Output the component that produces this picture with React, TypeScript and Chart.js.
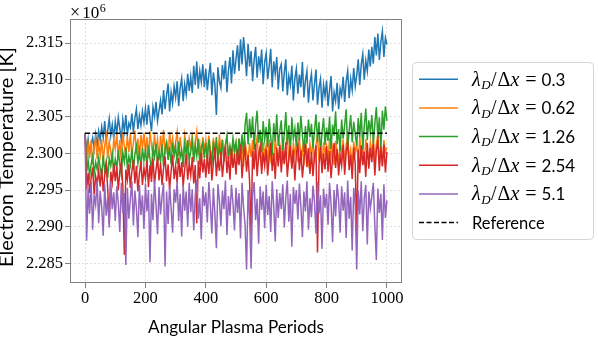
import { useEffect, useRef } from "react";
import { Chart, registerables } from "chart.js";

Chart.register(...registerables);

// Angular plasma periods sampled every 5 periods (0 .. 1000)
const periods: number[] = Array.from({ length: 201 }, (_, i) => i * 5);

const xTicks = [0, 200, 400, 600, 800, 1000];
const yTicks = [2.285, 2.29, 2.295, 2.3, 2.305, 2.31, 2.315];
const referenceT = 2.30272; // x10^6 K

// Electron temperature, in units of 10^6 K
const t030 = [
  2.3027,2.3004,2.3019,2.2999,2.3012,2.3021,2.3006,2.3026,2.3011,2.3030,
  2.3018,2.3036,2.3021,2.3044,2.3016,2.3031,2.3047,2.3024,2.3039,2.3020,
  2.3043,2.3027,2.3049,2.3034,2.3018,2.3046,2.3030,2.3052,2.3025,2.3041,
  2.3035,2.3054,2.3029,2.3048,2.3060,2.3033,2.3051,2.3038,2.3057,2.3042,
  2.3061,2.3039,2.3066,2.3047,2.3030,2.3063,2.3050,2.3070,2.3044,2.3058,
  2.3072,2.3053,2.3086,2.3060,2.3079,2.3095,2.3057,2.3083,2.3068,2.3091,
  2.3076,2.3098,2.3064,2.3089,2.3102,2.3071,2.3094,2.3080,2.3108,2.3085,
  2.3104,2.3082,2.3119,2.3093,2.3125,2.3088,2.3112,2.3097,2.3121,2.3090,
  2.3115,2.3086,2.3107,2.3123,2.3079,2.3110,2.3094,2.3052,2.3117,2.3098,
  2.3089,2.3120,2.3101,2.3126,2.3083,2.3113,2.3131,2.3095,2.3140,2.3108,
  2.3128,2.3147,2.3112,2.3155,2.3121,2.3158,2.3134,2.3105,2.3149,2.3118,
  2.3139,2.3098,2.3127,2.3145,2.3103,2.3132,2.3116,2.3141,2.3094,2.3124,
  2.3136,2.3101,2.3119,2.3142,2.3090,2.3125,2.3108,2.3131,2.3087,2.3115,
  2.3121,2.3084,2.3110,2.3128,2.3079,2.3105,2.3093,2.3119,2.3072,2.3102,
  2.3115,2.3081,2.3107,2.3090,2.3124,2.3076,2.3099,2.3112,2.3069,2.3096,
  2.3108,2.3072,2.3094,2.3114,2.3066,2.3089,2.3101,2.3062,2.3093,2.3078,
  2.3099,2.3064,2.3086,2.3105,2.3057,2.3083,2.3071,2.3096,2.3060,2.3088,
  2.3079,2.3104,2.3070,2.3098,2.3112,2.3075,2.3101,2.3086,2.3116,2.3091,
  2.3106,2.3128,2.3093,2.3121,2.3135,2.3100,2.3126,2.3112,2.3141,2.3118,
  2.3145,2.3122,2.3158,2.3133,2.3163,2.3127,2.3152,2.3166,2.3131,2.3157,
  2.3148,
];

const t062 = [
  2.3027,2.2989,2.3012,2.2994,2.3018,2.2985,2.3008,2.3021,2.2992,2.3014,
  2.2997,2.3019,2.2988,2.3011,2.3024,2.2993,2.3016,2.3003,2.2986,2.3020,
  2.3006,2.3026,2.2995,2.3018,2.2990,2.3029,2.3009,2.2998,2.3023,2.3002,
  2.3027,2.2996,2.3014,2.3031,2.2999,2.3020,2.2992,2.3025,2.3007,2.3028,
  2.3001,2.3022,2.2994,2.3030,2.3010,2.2997,2.3026,2.3004,2.3019,2.2991,
  2.3024,2.3005,2.3032,2.2998,2.3017,2.2993,2.3028,2.3008,2.3021,2.3000,
  2.3015,2.3029,2.2996,2.3022,2.3003,2.2989,2.3025,2.3011,2.2995,2.3020,
  2.3006,2.3027,2.2992,2.3016,2.3030,2.2998,2.3013,2.2987,2.3022,2.3004,
  2.3018,2.2994,2.3024,2.3007,2.2986,2.3021,2.3001,2.3015,2.2990,2.3026,
  2.3003,2.3019,2.2988,2.3012,2.3023,2.2992,2.3010,2.2984,2.3017,2.2999,
  2.3013,2.2986,2.3020,2.2997,2.3008,2.2982,2.3016,2.3002,2.2989,2.3014,
  2.2995,2.3018,2.2984,2.3009,2.3022,2.2990,2.3005,2.2980,2.3015,2.2998,
  2.3011,2.2987,2.3019,2.2993,2.3006,2.2983,2.3021,2.3000,2.2988,2.3012,
  2.2996,2.3017,2.2985,2.3010,2.3024,2.2991,2.3004,2.2981,2.3014,2.2999,
  2.3012,2.2988,2.3020,2.2994,2.3007,2.2983,2.3018,2.3001,2.2987,2.3013,
  2.2997,2.3016,2.2986,2.3011,2.3025,2.2990,2.3006,2.2982,2.3015,2.3000,
  2.3010,2.2989,2.3021,2.2995,2.3008,2.2984,2.3017,2.3002,2.2988,2.3014,
  2.2998,2.3019,2.2985,2.3012,2.3023,2.2992,2.3005,2.2983,2.3016,2.3001,
  2.3013,2.2987,2.3022,2.2996,2.3009,2.2985,2.3019,2.3003,2.2990,2.3015,
  2.2999,2.3020,2.2986,2.3013,2.3026,2.2993,2.3007,2.2984,2.3018,2.3002,
  2.3008,
];

const t126 = [
  2.3027,2.2974,2.2991,2.2969,2.2985,2.2996,2.2972,2.2988,2.2978,2.2994,
  2.2981,2.2970,2.2997,2.2976,2.2989,2.2967,2.2993,2.2983,2.2999,2.2975,
  2.2992,2.2979,2.3004,2.2985,2.2971,2.3001,2.2988,2.3008,2.2980,2.2996,
  2.2984,2.3006,2.2977,2.2999,2.3010,2.2986,2.3003,2.2981,2.3007,2.2990,
  2.3005,2.2983,2.3011,2.2992,2.2978,2.3008,2.2995,2.3013,2.2987,2.3002,
  2.2989,2.3012,2.2982,2.3006,2.3015,2.2991,2.3009,2.2985,2.3014,2.2997,
  2.3010,2.2986,2.3016,2.2994,2.3004,2.2981,2.3013,2.2999,2.3018,2.2990,
  2.3003,2.3017,2.2988,2.3011,2.2996,2.3020,2.2984,2.3008,2.3015,2.2993,
  2.3014,2.2990,2.3019,2.3001,2.2986,2.3016,2.2997,2.3022,2.2992,2.3009,
  2.2995,2.3018,2.2989,2.3012,2.3024,2.2993,2.3010,2.2998,2.3021,2.3004,
  2.3015,2.2992,2.3020,2.3001,2.3026,2.2999,2.3038,2.3055,2.3012,2.3047,
  2.3021,2.3050,2.3005,2.3039,2.3058,2.3014,2.3032,2.3001,2.3044,2.3019,
  2.3036,2.3008,2.3047,2.3023,2.2998,2.3041,2.3016,2.3053,2.3010,2.3030,
  2.3045,2.3004,2.3027,2.3056,2.3012,2.3038,2.2999,2.3049,2.3020,2.3034,
  2.3009,2.3042,2.3018,2.3051,2.3025,2.3002,2.3037,2.3013,2.3046,2.3022,
  2.3040,2.3007,2.3031,2.3053,2.3015,2.3043,2.2998,2.3029,2.3048,2.3011,
  2.3035,2.3017,2.3050,2.3006,2.3039,2.3024,2.3057,2.3012,2.3033,2.3003,
  2.3046,2.3020,2.3038,2.3060,2.3008,2.3031,2.3052,2.3015,2.3043,2.3026,
  2.3010,2.3048,2.3022,2.3055,2.3005,2.3037,2.3061,2.3018,2.3045,2.3028,
  2.3052,2.3013,2.3040,2.3063,2.3021,2.3049,2.3007,2.3058,2.3032,2.3064,
  2.3044,
];

const t254 = [
  2.3027,2.2951,2.2973,2.2946,2.2966,2.2981,2.2944,2.2969,2.2958,2.2977,
  2.2955,2.2979,2.2948,2.2970,2.2984,2.2952,2.2905,2.2975,2.2960,2.2986,
  2.2962,2.2982,2.2950,2.2975,2.2988,2.2956,2.2862,2.2978,2.2964,2.2985,
  2.2953,2.2976,2.2991,2.2959,2.2983,2.2948,2.2972,2.2989,2.2957,2.2980,
  2.2966,2.2990,2.2954,2.2984,2.2961,2.2993,2.2958,2.2978,2.2995,2.2963,
  2.2987,2.2957,2.2980,2.2996,2.2962,2.2985,2.2951,2.2976,2.2998,2.2965,
  2.2983,2.2960,2.2994,2.2968,2.2988,2.2955,2.2979,2.2999,2.2964,2.2986,
  2.2970,2.2995,2.2959,2.2984,2.2905,2.2990,2.2966,2.3001,2.2974,2.2992,
  2.2967,2.2998,2.2972,2.3004,2.2963,2.2987,2.3008,2.2969,2.2993,2.2976,
  2.3002,2.2968,2.2991,2.3010,2.2973,2.2996,2.2964,2.3006,2.2980,2.2999,
  2.2971,2.3005,2.2984,2.3012,2.2966,2.2994,2.3007,2.2975,2.2998,2.2962,
  2.2890,2.3003,2.2978,2.3013,2.2969,2.2997,2.3009,2.2972,2.3001,2.2983,
  2.3006,2.2970,2.2995,2.3014,2.2976,2.3000,2.2965,2.3008,2.2982,2.3011,
  2.2974,2.3003,2.2986,2.3015,2.2968,2.2993,2.3010,2.2979,2.3005,2.2963,
  2.2999,2.3012,2.2977,2.3004,2.2967,2.2990,2.3013,2.2981,2.3007,2.2972,
  2.3002,2.2969,2.2996,2.3011,2.2865,2.2985,2.3009,2.2973,2.3000,2.2978,
  2.3010,2.2975,2.3003,2.2966,2.2994,2.3014,2.2980,2.3006,2.2970,2.2997,
  2.2983,2.3012,2.2971,2.3001,2.3015,2.2977,2.2998,2.2965,2.3008,2.2986,
  2.2890,2.3005,2.2973,2.3011,2.2984,2.3002,2.2968,2.3014,2.2979,2.3007,
  2.2988,2.3013,2.2970,2.3004,2.3016,2.2976,2.3009,2.2982,2.3012,2.2974,
  2.3002,
];

const t510 = [
  2.3027,2.2881,2.2952,2.2918,2.2961,2.2896,2.2944,2.2930,2.2963,2.2905,
  2.2949,2.2927,2.2888,2.2958,2.2915,2.2940,2.2899,2.2962,2.2924,2.2947,
  2.2908,2.2955,2.2932,2.2893,2.2960,2.2919,2.2946,2.2848,2.2953,2.2911,
  2.2938,2.2962,2.2902,2.2949,2.2925,2.2886,2.2957,2.2916,2.2943,2.2897,
  2.2959,2.2921,2.2950,2.2852,2.2945,2.2909,2.2963,2.2929,2.2890,2.2954,
  2.2917,2.2941,2.2960,2.2846,2.2948,2.2904,2.2956,2.2926,2.2892,2.2951,
  2.2933,2.2962,2.2908,2.2945,2.2887,2.2957,2.2922,2.2948,2.2900,2.2960,
  2.2920,2.2951,2.2895,2.2943,2.2964,2.2911,2.2939,2.2883,2.2955,2.2928,
  2.2947,2.2906,2.2961,2.2930,2.2891,2.2953,2.2918,2.2871,2.2958,2.2936,
  2.2901,2.2949,2.2924,2.2963,2.2889,2.2942,2.2915,2.2957,2.2932,2.2895,
  2.2953,2.2919,2.2946,2.2884,2.2960,2.2927,2.2903,2.2842,2.2950,2.2914,
  2.2843,2.2944,2.2961,2.2909,2.2938,2.2877,2.2955,2.2923,2.2948,2.2898,
  2.2957,2.2916,2.2942,2.2893,2.2962,2.2929,2.2880,2.2951,2.2912,2.2946,
  2.2924,2.2958,2.2899,2.2940,2.2963,2.2907,2.2945,2.2873,2.2954,2.2931,
  2.2950,2.2910,2.2959,2.2928,2.2886,2.2948,2.2921,2.2962,2.2896,2.2939,
  2.2913,2.2956,2.2935,2.2891,2.2961,2.2918,2.2943,2.2870,2.2952,2.2926,
  2.2945,2.2903,2.2960,2.2931,2.2879,2.2950,2.2914,2.2958,2.2937,2.2892,
  2.2955,2.2922,2.2947,2.2885,2.2963,2.2911,2.2941,2.2868,2.2953,2.2930,
  2.2842,2.2949,2.2917,2.2962,2.2894,2.2939,2.2957,2.2876,2.2948,2.2925,
  2.2941,2.2960,2.2902,2.2855,2.2952,2.2919,2.2945,2.2882,2.2958,2.2912,
  2.2936,
];

const seriesNames = ["0.3", "0.62", "1.26", "2.54", "5.1"];
const seriesColors = ["#1f77b4", "#ff7f0e", "#2ca02c", "#d62728", "#9467bd"];
const seriesValues = [t030, t062, t126, t254, t510];

const SERIF = '"Liberation Serif", "DejaVu Serif", serif';
const SANS = 'Lato, "DejaVu Sans", sans-serif';

function fitFont(ctx: CanvasRenderingContext2D, text: string, family: string, target: number) {
  ctx.font = `20px ${family}`;
  const w = ctx.measureText(text).width;
  return (20 * target) / w;
}

function drawPiece(ctx: CanvasRenderingContext2D, text: string, font: string, x: number, y: number) {
  ctx.font = font;
  ctx.fillText(text, x, y);
  return ctx.measureText(text).width;
}

const overlayPlugin = {
  id: "overlay",
  afterDatasetsDraw(chart: any) {
    const { ctx, chartArea } = chart;
    ctx.save();
    ctx.strokeStyle = "#808080";
    ctx.lineWidth = 1;
    ctx.strokeRect(
      Math.round(chartArea.left) + 0.5,
      Math.round(chartArea.top) + 0.5,
      Math.round(chartArea.right - chartArea.left) - 1,
      Math.round(chartArea.bottom - chartArea.top) - 1
    );
    ctx.restore();
  },
  afterDraw(chart: any) {
    const { ctx, chartArea } = chart;
    ctx.save();
    ctx.fillStyle = "#000";

    // x axis title
    const xt = "Angular Plasma Periods";
    const xs = fitFont(ctx, xt, SANS, 176);
    ctx.font = `${xs}px ${SANS}`;
    ctx.textAlign = "center";
    ctx.textBaseline = "alphabetic";
    ctx.fillText(xt, (chartArea.left + chartArea.right) / 2, 333);

    // y axis title
    const yt = "Electron Temperature [K]";
    const ys = fitFont(ctx, yt, SANS, 220);
    ctx.save();
    ctx.translate(13, 157);
    ctx.rotate(-Math.PI / 2);
    ctx.font = `${ys}px ${SANS}`;
    ctx.textAlign = "center";
    ctx.fillText(yt, 0, 0);
    ctx.restore();

    // offset text
    ctx.textAlign = "left";
    ctx.font = `18px ${SERIF}`;
    ctx.fillText("\u00d7", chartArea.left, 18);
    const wx = ctx.measureText("\u00d7").width;
    ctx.font = `17px ${SERIF}`;
    ctx.fillText("10", chartArea.left + wx + 2, 18);
    const w10 = ctx.measureText("10").width;
    ctx.font = `12px ${SERIF}`;
    ctx.fillText("6", chartArea.left + wx + 2 + w10 + 0.5, 12);

    // legend
    const bx = 412.5, by = 62.5, bw = 181, bh = 177, r = 4;
    ctx.beginPath();
    ctx.moveTo(bx + r, by);
    ctx.lineTo(bx + bw - r, by);
    ctx.arcTo(bx + bw, by, bx + bw, by + r, r);
    ctx.lineTo(bx + bw, by + bh - r);
    ctx.arcTo(bx + bw, by + bh, bx + bw - r, by + bh, r);
    ctx.lineTo(bx + r, by + bh);
    ctx.arcTo(bx, by + bh, bx, by + bh - r, r);
    ctx.lineTo(bx, by + r);
    ctx.arcTo(bx, by, bx + r, by, r);
    ctx.closePath();
    ctx.fillStyle = "rgba(255,255,255,0.85)";
    ctx.fill();
    ctx.strokeStyle = "#d5d5d5";
    ctx.lineWidth = 1;
    ctx.stroke();

    const rowY0 = 79.3, dy = 28.65;
    const lx0 = 419, lx1 = 458, tx = 472;
    const rows = seriesNames.length + 1;
    for (let i = 0; i < rows; i++) {
      const cy = rowY0 + i * dy;
      ctx.beginPath();
      ctx.moveTo(lx0, cy);
      ctx.lineTo(lx1, cy);
      ctx.lineWidth = 1.5;
      if (i < seriesNames.length) {
        ctx.setLineDash([]);
        ctx.strokeStyle = seriesColors[i];
      } else {
        ctx.setLineDash([5, 2.5]);
        ctx.strokeStyle = "#000";
      }
      ctx.stroke();
      ctx.setLineDash([]);
      ctx.fillStyle = "#000";
      ctx.textAlign = "left";
      ctx.textBaseline = "alphabetic";
      const base = cy + 6.3;
      if (i < seriesNames.length) {
        let x = tx;
        x += drawPiece(ctx, "\u03bb", `italic 20px ${SERIF}`, x, base) + 0.5;
        x += drawPiece(ctx, "D", `italic 13px ${SERIF}`, x, base + 3.5) + 0.5;
        x += drawPiece(ctx, "/", `20px ${SERIF}`, x, base) + 1;
        x += drawPiece(ctx, "\u0394", `20px ${SERIF}`, x, base);
        x += drawPiece(ctx, "x", `italic 20px ${SERIF}`, x, base) + 6;
        x += drawPiece(ctx, "=", `20px ${SERIF}`, x, base) + 5;
        drawPiece(ctx, seriesNames[i], `17px ${SANS}`, x, base);
      } else {
        drawPiece(ctx, "Reference", `16.5px ${SANS}`, tx, base);
      }
    }
    ctx.restore();
  },
};

export default function App() {
  const ref = useRef<HTMLCanvasElement | null>(null);

  useEffect(() => {
    document.body.style.margin = "0";
    const canvas = ref.current;
    if (!canvas) return;

    const datasets: any[] = seriesValues.map((vals, i) => ({
      label: `\u03bb_D/\u0394x = ${seriesNames[i]}`,
      data: periods.map((p, j) => ({ x: p, y: vals[j] })),
      borderColor: seriesColors[i],
      backgroundColor: seriesColors[i],
      borderWidth: 1.5,
      pointRadius: 0,
      tension: 0,
      order: seriesNames.length - i,
    }));
    datasets.push({
      label: "Reference",
      data: [
        { x: periods[0], y: referenceT },
        { x: periods[periods.length - 1], y: referenceT },
      ],
      borderColor: "#000",
      borderWidth: 1.5,
      borderDash: [5, 2.5],
      pointRadius: 0,
      order: 0,
    });

    const chart = new Chart(canvas, {
      type: "line",
      data: { datasets },
      plugins: [overlayPlugin],
      options: {
        animation: false,
        responsive: false,
        maintainAspectRatio: false,
        layout: { padding: { top: 19, right: 196, left: 0, bottom: 0 } },
        plugins: { legend: { display: false }, tooltip: { enabled: false } },
        scales: {
          x: {
            type: "linear",
            min: -50,
            max: 1050,
            afterBuildTicks: (s: any) => {
              s.ticks = xTicks.map((v) => ({ value: v }));
            },
            afterFit: (s: any) => {
              s.height = 57;
            },
            border: { display: false, dash: [2, 2] },
            grid: {
              color: "#d6d6d6",
              lineWidth: 0.8,
              tickLength: 5,
              tickColor: "#808080",
              tickWidth: 1,
              tickBorderDash: [],
            },
            ticks: {
              color: "#000",
              font: { family: SERIF, size: 16.5 },
              padding: 1,
              maxRotation: 0,
              autoSkip: false,
              callback: (v: any) => String(v),
            },
          },
          y: {
            type: "linear",
            min: 2.28236,
            max: 2.31827,
            afterBuildTicks: (s: any) => {
              s.ticks = yTicks.map((v) => ({ value: v }));
            },
            afterFit: (s: any) => {
              s.width = 70;
            },
            border: { display: false, dash: [2, 2] },
            grid: {
              color: "#d6d6d6",
              lineWidth: 0.8,
              tickLength: 5,
              tickColor: "#808080",
              tickWidth: 1,
              tickBorderDash: [],
            },
            ticks: {
              color: "#000",
              font: { family: SERIF, size: 16.5 },
              padding: 2,
              autoSkip: false,
              callback: (v: any) => Number(v).toFixed(3),
            },
          },
        },
      } as any,
    });

    return () => chart.destroy();
  }, []);

  return (
    <div style={{ position: "fixed", left: 0, top: 0, width: 598, height: 340, background: "#fff" }}>
      <canvas ref={ref} width={598} height={340} style={{ width: 598, height: 340, display: "block" }} />
    </div>
  );
}
